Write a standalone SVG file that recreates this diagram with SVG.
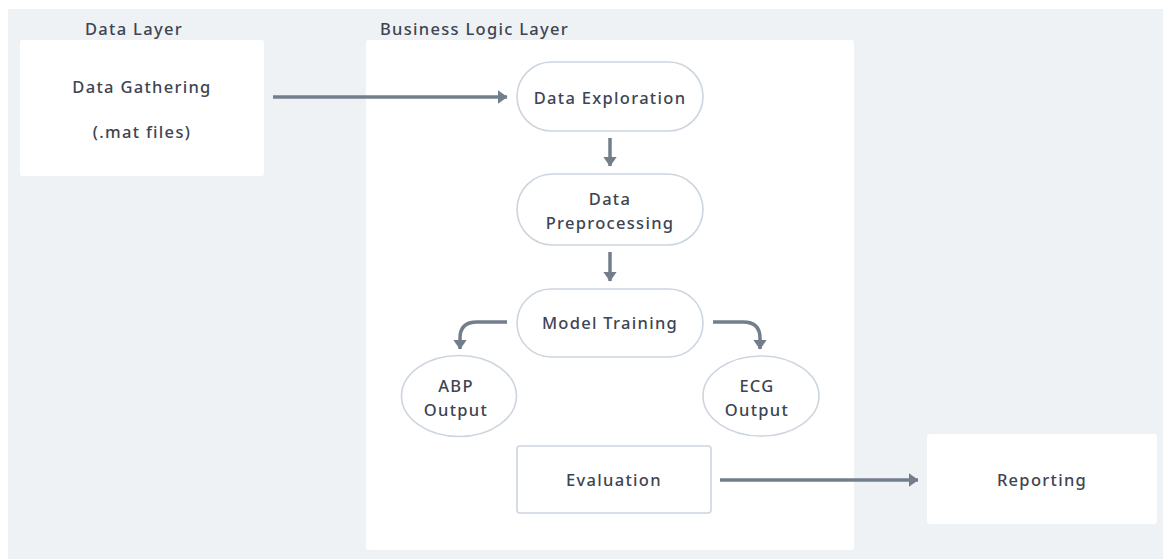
<svg xmlns="http://www.w3.org/2000/svg" width="1163" height="559" viewBox="0 0 1163 559">
<defs>
<style>
text{font-family:"Noto Sans","Liberation Sans",sans-serif;font-size:16.5px;letter-spacing:1.3px;fill:#3d4452;font-weight:500;text-anchor:middle}
.lbl{text-anchor:start}
.panel{fill:#ffffff}
.pill{fill:#ffffff;stroke:#cdd5df;stroke-width:1.6}
.conn{fill:none;stroke:#737e8c;stroke-width:3.5}
</style>
<marker id="ah" viewBox="0 0 10 14" refX="9.5" refY="7" markerWidth="10" markerHeight="14" markerUnits="userSpaceOnUse" orient="auto">
<path d="M0,0 L10,7 L0,14 Z" fill="#737e8c"/>
</marker>
</defs>
<rect x="0" y="0" width="1163" height="559" fill="#ffffff"/>
<rect x="8" y="9" width="1155" height="550" fill="#eef2f5"/>
<g id="data-layer">
<text class="lbl" x="85" y="35">Data Layer</text>
</g>
<g id="business-logic-layer">
<text class="lbl" x="380" y="35">Business Logic Layer</text>
<rect class="panel" x="366" y="40" width="488" height="510" rx="3"/>
</g>
<g id="data-gathering">
<rect class="panel" x="20" y="40" width="244" height="136" rx="3"/>
<text x="142" y="93">Data Gathering</text>
<text x="142" y="138">(.mat files)</text>
</g>
<g id="data-exploration">
<rect class="pill" x="517" y="62" width="186" height="69" rx="34.5"/>
<text x="610" y="104">Data Exploration</text>
</g>
<g id="data-preprocessing">
<rect class="pill" x="517" y="174" width="186" height="71" rx="35.5"/>
<text x="610" y="205">Data</text>
<text x="610" y="229">Preprocessing</text>
</g>
<g id="model-training">
<rect class="pill" x="517" y="289" width="186" height="68" rx="34"/>
<text x="610" y="329">Model Training</text>
</g>
<g id="abp-output">
<ellipse class="pill" cx="459" cy="396" rx="57.5" ry="40.5"/>
<text x="456" y="392">ABP</text>
<text x="456" y="416">Output</text>
</g>
<g id="ecg-output">
<ellipse class="pill" cx="761" cy="396" rx="58" ry="40"/>
<text x="757" y="392">ECG</text>
<text x="757" y="416">Output</text>
</g>
<g id="evaluation">
<rect class="pill" x="517" y="446" width="194" height="67" rx="3"/>
<text x="614" y="486">Evaluation</text>
</g>
<g id="reporting">
<rect class="panel" x="927" y="434" width="230" height="90" rx="3"/>
<text x="1042" y="486">Reporting</text>
</g>
<g id="connectors">
<path class="conn" d="M273,97 L507,97" marker-end="url(#ah)"/>
<path class="conn" d="M610,138 L610,166" marker-end="url(#ah)"/>
<path class="conn" d="M610,252 L610,281" marker-end="url(#ah)"/>
<path class="conn" d="M507,322 L477,322 Q460,322 460,338 L460,349" marker-end="url(#ah)"/>
<path class="conn" d="M713,322 L743,322 Q760,322 760,338 L760,349" marker-end="url(#ah)"/>
<path class="conn" d="M720,480 L918,480" marker-end="url(#ah)"/>
</g>
</svg>
